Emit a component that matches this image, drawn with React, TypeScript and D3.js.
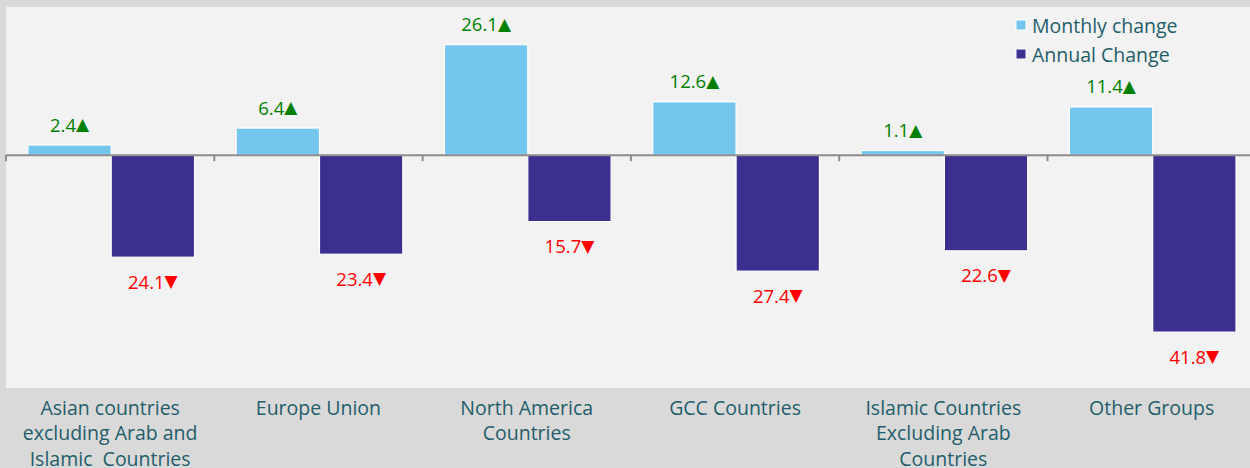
import React from "react";
import * as d3 from "d3";

const categories = [
  ["Asian countries", "excluding Arab and", "Islamic  Countries"],
  ["Europe Union"],
  ["North America", "Countries"],
  ["GCC Countries"],
  ["Islamic Countries", "Excluding Arab", "Countries"],
  ["Other Groups"],
];
const monthlyChange = [2.4, 6.4, 26.1, 12.6, 1.1, 11.4];
const annualChange = [-24.1, -23.4, -15.7, -27.4, -22.6, -41.8];
const seriesNames = ["Monthly change", "Annual Change"];
const colors = ["#75c6ef", "#3b2f8f"];

const W = 1250;
const H = 468;
const plotLeft = 6;
const plotTop = 7;
const plotBottom = 388;
const bandW = 208.3;
const FONT = "'Open Sans', sans-serif";
const TRI = "'DejaVu Sans', sans-serif";

export default function App() {
  const x = d3
    .scaleBand<number>()
    .domain(d3.range(categories.length))
    .range([plotLeft, plotLeft + bandW * categories.length])
    .paddingInner(0)
    .paddingOuter(0);
  const y = d3.scaleLinear().domain([-55, 35]).range([plotBottom, plotTop]);
  const bw = x.bandwidth();
  const barW = bw * 0.4;
  const padL = bw * 0.105;
  const y0 = y(0);

  return (
    <svg
      width={W}
      height={H}
      style={{ position: "absolute", left: 0, top: 0, display: "block" }}
    >
      <rect x={0} y={0} width={W} height={H} fill="#d9d9d9" />
      <rect
        x={plotLeft}
        y={plotTop}
        width={W - plotLeft}
        height={plotBottom - plotTop}
        fill="#f2f2f2"
      />
      {categories.map((c, i) => {
        const bx = (x(i) as number) + padL;
        const m = monthlyChange[i];
        const a = annualChange[i];
        return (
          <g key={i}>
            <rect
              x={bx}
              y={y(m)}
              width={barW}
              height={y0 - y(m)}
              fill={colors[0]}
              stroke="#ffffff"
              strokeWidth={1.2}
            />
            <rect
              x={bx + barW}
              y={y0}
              width={barW}
              height={y(a) - y0}
              fill={colors[1]}
              stroke="#ffffff"
              strokeWidth={1.2}
            />
            <text
              x={bx + barW / 2}
              y={y(m) - 21}
              textAnchor="middle"
              dominantBaseline="central"
              fontFamily={FONT}
              fontSize={18.5}
              fill="#008000"
            >
              {m.toFixed(1)}
              <tspan fontFamily={TRI} fontSize={17}>▲</tspan>
            </text>
            <text
              x={bx + barW * 1.5}
              y={y(a) + 24}
              textAnchor="middle"
              dominantBaseline="central"
              fontFamily={FONT}
              fontSize={18.5}
              fill="#ff0000"
            >
              {Math.abs(a).toFixed(1)}
              <tspan fontFamily={TRI} fontSize={17}>▼</tspan>
            </text>
            {c.map((line, j) => (
              <text
                key={j}
                x={(x(i) as number) + bw / 2}
                y={407 + j * 25.5}
                textAnchor="middle"
                dominantBaseline="central"
                fontFamily={FONT}
                fontSize={19.5}
                fill="#235d6b"
                style={{ whiteSpace: "pre" }}
              >
                {line}
              </text>
            ))}
          </g>
        );
      })}
      <line
        x1={plotLeft}
        x2={W}
        y1={y0}
        y2={y0}
        stroke="#8c8c8c"
        strokeWidth={2}
      />
      {d3.range(categories.length + 1).map((i) => {
        const tx = plotLeft + i * bandW;
        return (
          <line
            key={i}
            x1={tx}
            x2={tx}
            y1={y0}
            y2={y0 + 6}
            stroke="#8c8c8c"
            strokeWidth={2}
          />
        );
      })}
      {seriesNames.map((s, i) => (
        <g key={s}>
          <rect
            x={1016}
            y={20 + i * 29}
            width={10}
            height={10}
            fill={colors[i]}
            stroke="#ffffff"
            strokeWidth={1}
          />
          <text
            x={1032}
            y={25 + i * 29}
            dominantBaseline="central"
            fontFamily={FONT}
            fontSize={19.5}
            fill="#235d6b"
          >
            {s}
          </text>
        </g>
      ))}
    </svg>
  );
}
